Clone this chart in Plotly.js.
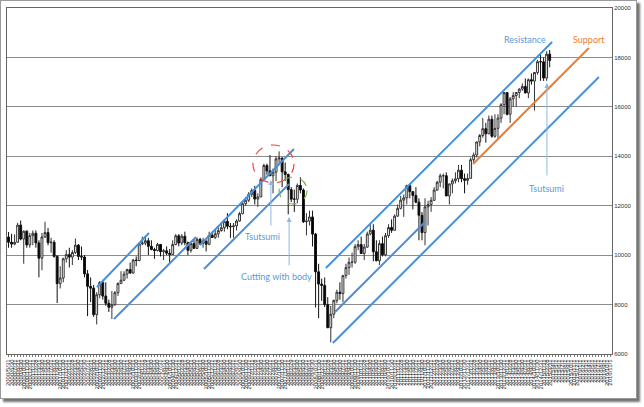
<!DOCTYPE html>
<html><head><meta charset="utf-8">
<script src="https://cdn.plot.ly/plotly-3.0.1.min.js"></script>
<style>
html,body{margin:0;padding:0;background:#fff;}
#wrap{position:relative;width:644px;height:407px;overflow:hidden;}
#chart{width:644px;height:407px;}
#frame{position:absolute;left:0;top:0;width:635px;height:397px;border:1px solid #9a9a9a;box-shadow:3px 3px 2px rgba(0,0,0,0.55);pointer-events:none;}
</style>
</head><body>
<div id="wrap"><div id="chart"></div><div id="frame"></div></div>
<script>
// Monthly OHLC, 2000/5 .. 2015/3
const openV = [
10734,10522,10448,10522,11215,10651,10971,10415,
10787,10887,10495,9879,10735,10912,10502,10523,9950,8848,9075,9852,
10022,9920,10106,10404,9946,9925,9243,8737,8664,7592,8397,8896,
8342,8054,7891,7992,8480,8850,8985,9234,9416,9275,9801,9782,
10454,10488,10584,10358,10226,10188,10435,10140,10174,10080,10027,10428,
10783,10490,10766,10504,10193,10467,10275,10641,10482,10569,10440,10806,
10718,10865,10993,11109,11367,11168,11150,11186,11381,11679,12081,12222,
12463,12622,12269,12354,13063,13628,13409,13212,13358,13896,13930,13372,
13265,12650,12266,12263,12820,12638,11350,11378,11544,10851,9325,8829,
8776,8001,7063,7609,8168,8500,8447,9172,9496,9712,9713,10345,
10428,10067,10325,10857,11009,10137,9774,10466,10015,10788,11118,11006,
11578,11892,12226,12320,12811,12570,12414,12143,11614,10913,11955,12046,
12218,12633,12952,13212,13214,12393,12880,13009,13091,13437,13096,13026,
13104,13861,14054,14579,14840,15116,14910,15500,14810,15130,15546,16086,
16577,15699,16322,16458,16581,16717,16827,16563,17098,17043,17391,17828,
17823,17165,18133];
const highV = [
10936,10864,10843,11310,11401,10994,11000,10900,
11000,11000,10600,10900,11350,11100,10700,10600,10000,9550,9900,10200,
10300,10200,10673,10450,10350,10000,9400,9100,8800,8500,8950,9000,
8900,8200,8550,8550,8900,9350,9350,9450,9700,9850,9950,10500,
10750,10750,10700,10600,10300,10500,10450,10250,10350,10250,10600,10850,
10850,10850,10950,10550,10550,10650,10720,10700,10700,10600,10950,10950,
11050,11140,11330,11450,11700,11300,11300,11450,11750,12150,12350,12550,
12700,12800,12500,13150,13700,13700,14050,13500,14000,14198,13950,13750,
13300,12750,12650,12900,13150,12700,11700,11800,11800,10900,9650,9050,
9100,8300,7950,8200,8600,8900,9200,9650,9900,10100,10450,10600,
10750,10450,10950,11250,11250,10600,10600,10750,10900,11250,11450,11650,
12050,12400,12450,12850,12900,12600,12750,12300,11750,12300,12200,12350,
12750,13000,13300,13300,13350,12900,13100,13350,13650,13650,13300,13300,
13950,14150,14600,14900,15550,15350,15650,15650,15700,15700,16150,16600,
16600,16400,16600,16600,16750,16950,17150,17150,17350,17400,17900,18100,
18000,18250,18300];
const lowV = [
10300,10300,10400,10500,10600,9654,10300,10300,
10400,10300,9100,9389,10700,10400,10100,9900,8062,8650,8900,9700,
9500,9600,10050,9800,9800,9100,7532,8100,7500,7197,8250,8200,
7950,7700,7416,7950,8350,8850,8950,9050,9250,9250,9550,9750,
10400,10400,10000,10200,9850,10150,9950,9800,10000,9700,10000,10400,
10350,10400,10400,10000,10100,10250,10250,10400,10300,10150,10400,10700,
10650,10700,10950,10950,11050,10700,10700,11000,11350,11650,12000,12150,
12350,12050,11950,12350,13050,13250,13200,12500,13000,13700,12750,13000,
11650,12150,11750,12100,12500,11300,10800,11200,10350,7880,7450,8150,
7900,7050,6469,7450,8050,8200,8100,9050,9200,9500,9650,10200,
10050,9800,10300,10800,9750,9750,9600,9950,9950,10700,10900,11000,
11550,11850,11550,12050,12300,11850,12100,10600,10600,10400,11200,11750,
12200,12600,12750,12700,12400,12050,12500,12900,12950,12950,12500,12850,
13100,13750,13950,14400,14750,14550,14900,14750,14750,14700,15350,15700,
15650,15350,16000,16000,16350,16650,16550,16350,16900,15850,17300,17050,
17050,17050,17600];
const closeV = [
10522,10448,10522,11215,10651,10971,10415,10787,
10887,10495,9879,10735,10912,10502,10523,9950,8848,9075,9852,10022,
9920,10106,10404,9946,9925,9243,8737,8664,7592,8397,8896,8342,
8054,7891,7992,8480,8850,8985,9234,9416,9275,9801,9782,10454,
10488,10584,10358,10226,10188,10435,10140,10174,10080,10027,10428,10783,
10490,10766,10504,10193,10467,10275,10641,10482,10569,10440,10806,10718,
10865,10993,11109,11367,11168,11150,11186,11381,11679,12081,12222,12463,
12622,12269,12354,13063,13628,13409,13212,13358,13896,13930,13372,13265,
12650,12266,12263,12820,12638,11350,11378,11544,10851,9325,8829,8776,
8001,7063,7609,8168,8500,8447,9172,9496,9712,9713,10345,10428,
10067,10325,10857,11009,10137,9774,10466,10015,10788,11118,11006,11578,
11892,12226,12320,12811,12570,12414,12143,11614,10913,11955,12046,12218,
12633,12952,13212,13214,12393,12880,13009,13091,13437,13096,13026,13104,
13861,14054,14579,14840,15116,14910,15500,14810,15130,15546,16086,16577,
15699,16322,16458,16581,16717,16827,16563,17098,17043,17391,17828,17823,
17165,18133,17880];

// Category labels: month-end dates for data months, then future months
const startYear = 2000, startMonth = 5, totalMonths = 199;
const nData = closeV.length;
const dateLabels = [];
for (let i = 0; i < totalMonths; i++) {
  const m0 = startMonth - 1 + i;
  const y = startYear + Math.floor(m0 / 12);
  const m = (m0 % 12) + 1;
  const d = i < nData ? new Date(y, m, 0).getDate() : 1;
  dateLabels.push(y + '/' + m + '/' + d);
}

// Trend lines [xIndex0, value0, xIndex1, value1]
const blueLines = [
  [29.1, 8711, 46.2, 10896],
  [34.7, 7416, 61.7, 10734],
  [63.0, 10410, 93.9, 14294],
  [64.3, 9439, 92.3, 12878],
  [104.4, 9480, 178.8, 18624],
  [107.4, 7699, 137.0, 11341],
  [106.7, 6445, 194.2, 17207]
];
const orangeLines = [[152.8, 13687, 190.9, 18381]];
// Highlight ellipses [x0, y0, x1, y1]
const redCircle = [80.4, 12919, 93.9, 14456];
const greenCircle = [89.0, 12069, 98.2, 13161];
// Arrows: [xIndex, valueAtHead, lengthPx]
const arrows = [[86.3, 13040, 47], [92.3, 11543, 50], [177.1, 16965, 94]];
// Labels: [text, xIndex, value, color]
const labels = [
  ['Tsutsumi', 83.4, 10774, '#5B9BD5'],
  ['Cutting with body', 88.3, 9156, '#5B9BD5'],
  ['Tsutsumi', 177.1, 12716, '#5B9BD5'],
  ['Resistance', 169.9, 18745, '#5B9BD5'],
  ['Support', 190.9, 18745, '#ED7D31']
];

const trace = {
  type: 'candlestick',
  x: dateLabels.slice(0, nData),
  open: openV, high: highV, low: lowV, close: closeV,
  increasing: {line: {color: '#333333', width: 1}, fillcolor: '#ffffff'},
  decreasing: {line: {color: '#111111', width: 1}, fillcolor: '#000000'},
  whiskerwidth: 0,
  hoverinfo: 'skip'
};

const shapes = [];
blueLines.forEach(l => shapes.push({type: 'line', xref: 'x', yref: 'y', x0: l[0], y0: l[1], x1: l[2], y1: l[3], line: {color: '#4A8FD8', width: 2}}));
orangeLines.forEach(l => shapes.push({type: 'line', xref: 'x', yref: 'y', x0: l[0], y0: l[1], x1: l[2], y1: l[3], line: {color: '#ED7D31', width: 2}}));
shapes.push({type: 'circle', xref: 'x', yref: 'y', x0: redCircle[0], y0: redCircle[1], x1: redCircle[2], y1: redCircle[3], line: {color: '#FF4040', width: 1.2, dash: 'dash'}});
shapes.push({type: 'circle', xref: 'x', yref: 'y', x0: greenCircle[0], y0: greenCircle[1], x1: greenCircle[2], y1: greenCircle[3], line: {color: '#7FB24A', width: 1.2, dash: 'dash'}});

const annotations = [];
arrows.forEach(a => annotations.push({x: a[0], y: a[1], xref: 'x', yref: 'y', text: '', showarrow: true, ax: 0, ay: a[2], arrowhead: 2, arrowsize: 1, arrowwidth: 1, arrowcolor: '#8DB8E6', standoff: 0, startstandoff: 0}));
labels.forEach(t => annotations.push({x: t[1], y: t[2], xref: 'x', yref: 'y', text: t[0], showarrow: false, font: {family: 'Lato, sans-serif', size: 9, color: t[3]}}));

const layout = {
  width: 644, height: 407,
  margin: {l: 7, r: 32, t: 8, b: 53},
  paper_bgcolor: '#ffffff', plot_bgcolor: '#ffffff',
  showlegend: false,
  boxgap: 0.12,
  xaxis: {
    type: 'category', categoryorder: 'array', categoryarray: dateLabels,
    range: [-0.5, totalMonths - 0.5],
    tickmode: 'array', tickvals: dateLabels, ticktext: dateLabels,
    tickangle: -90, tickfont: {family: 'Liberation Sans, Arial, sans-serif', size: 6, color: '#333'},
    ticks: 'outside', ticklen: 2, tickcolor: '#777',
    showgrid: false, showline: true, linecolor: '#666', linewidth: 1, mirror: true,
    rangeslider: {visible: false}, fixedrange: true
  },
  yaxis: {
    range: [6000, 20000], dtick: 2000, side: 'right', tickformat: 'd',
    tickfont: {family: 'Liberation Sans, Arial, sans-serif', size: 6, color: '#333'},
    showgrid: true, gridcolor: '#8c8c8c', gridwidth: 1,
    showline: true, linecolor: '#666', linewidth: 1, mirror: true,
    ticks: '', zeroline: false, fixedrange: true
  },
  shapes: shapes,
  annotations: annotations
};

Plotly.newPlot('chart', [trace], layout, {displayModeBar: false, staticPlot: true});
</script>
</body></html>
